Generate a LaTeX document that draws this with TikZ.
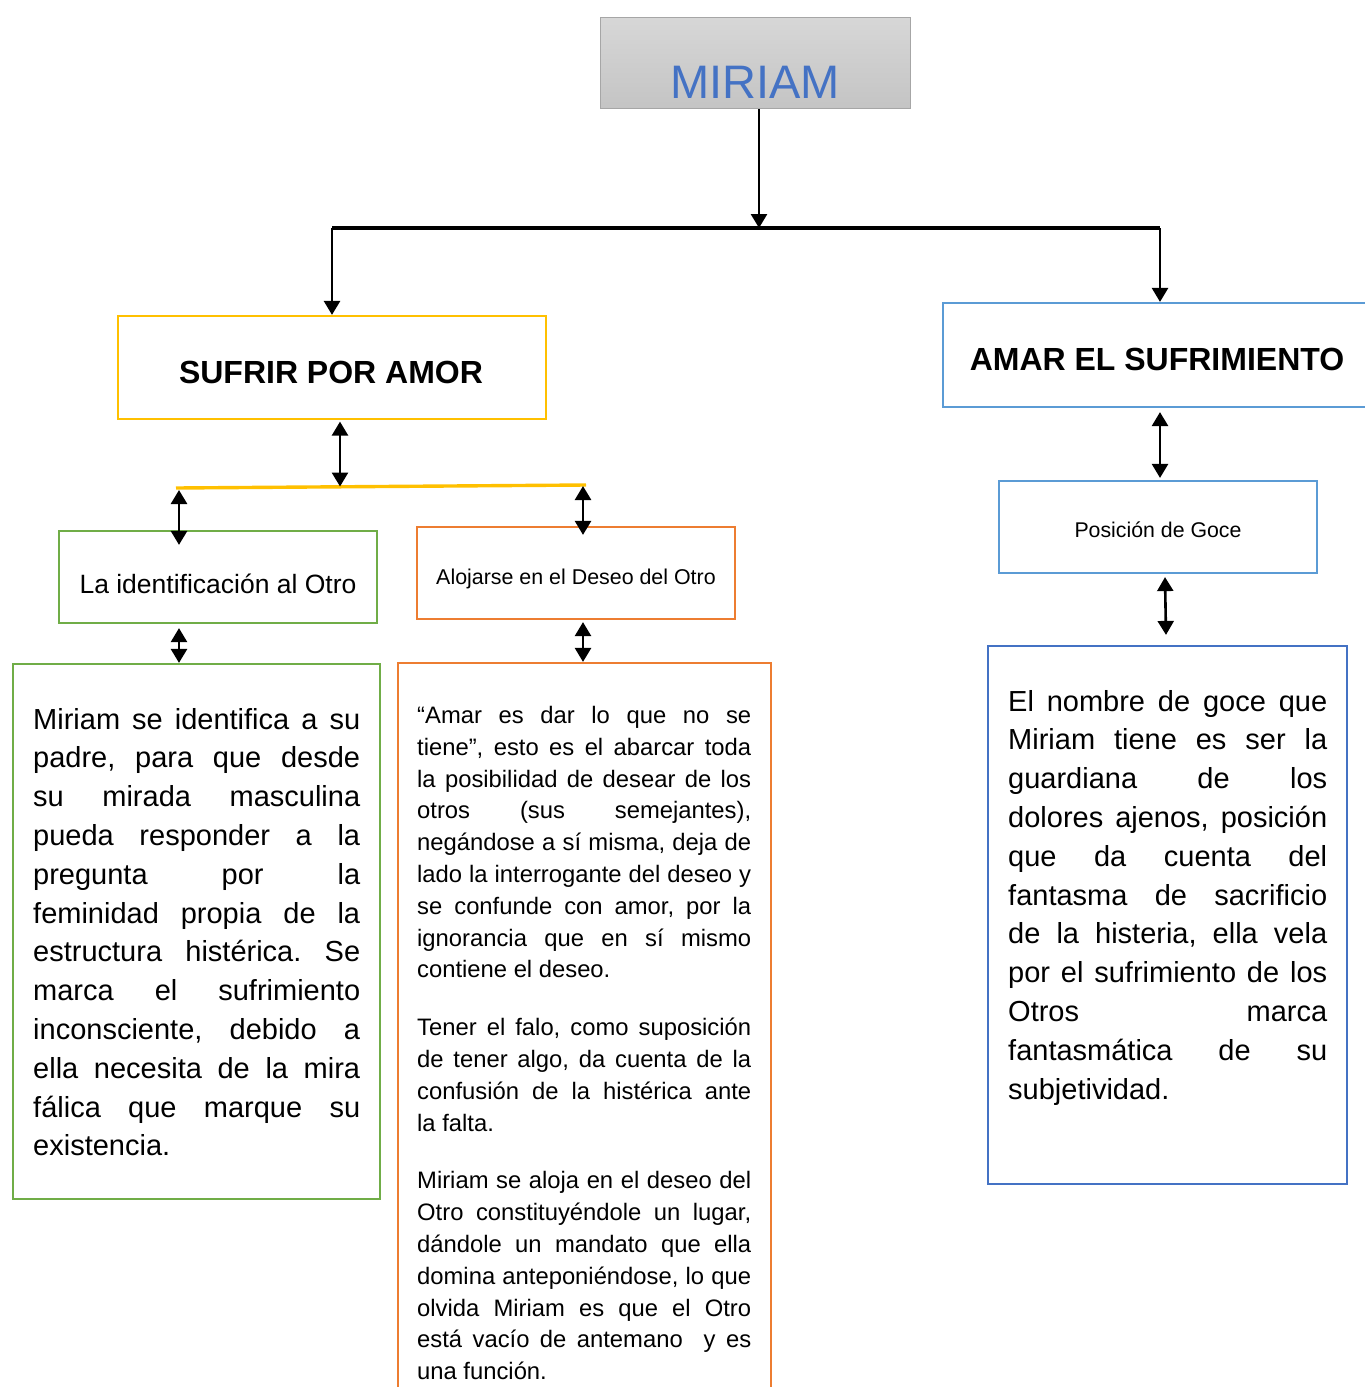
\documentclass[tikz,border=0pt]{standalone}
\usepackage{fontspec}
\setmainfont{Liberation Sans}
\usetikzlibrary{arrows.meta,calc}
\definecolor{cyellow}{HTML}{FFC000}
\definecolor{cgreen}{HTML}{70AD47}
\definecolor{corange}{HTML}{ED7D31}
\definecolor{clblue}{HTML}{5B9BD5}
\definecolor{cdblue}{HTML}{4472C4}
\definecolor{cgrayb}{HTML}{A6A6A6}
\definecolor{cgtop}{HTML}{D7D7D7}
\definecolor{cgbot}{HTML}{C4C4C4}
\hbadness=10000
\hfuzz=20pt
\frenchspacing
\newcommand\jl[1]{\noindent\hbox to\hsize{#1}\par}
\newcommand\lastline[1]{\noindent\hbox{#1}\par}
\tikzset{
  box/.style={draw, line width=2.2pt, inner sep=0pt},
  lbl/.style={inner sep=0pt, anchor=base},
  body/.style={inner sep=0pt, anchor=base west},
  conn/.style={line width=2.6pt, -{Triangle[length=14pt,width=16pt]}},
  dbl/.style={line width=2.6pt, {Triangle[length=14pt,width=16pt]}-{Triangle[length=14pt,width=16pt]}},
  bar/.style={line width=3.4pt}
}
\begin{document}
\begin{tikzpicture}[x=1pt,y=-1pt]
\useasboundingbox (0,0) rectangle (1365,1387);
\clip (0,0) rectangle (1365,1387);

% top box
\node[draw=cgrayb, line width=1.5pt, top color=cgtop, bottom color=cgbot,
      minimum width=310pt, minimum height=91pt, inner sep=0pt] (miriam) at (755.5,63) {};
\node[lbl, text=cdblue, font=\fontsize{47}{52}\selectfont] (miriamt) at (755,98) {MIRIAM};

% level 1 boxes
\node[box, draw=cyellow, minimum width=428pt, minimum height=103pt] (sufrir) at (332,367.5) {};
\node[lbl, font=\bfseries\fontsize{32}{36}\selectfont] (sufrirt) at (331,383.5) {SUFRIR POR AMOR};
\node[box, draw=clblue, minimum width=436pt, minimum height=104pt] (amar) at (1161,355) {};
\node[lbl, font=\bfseries\fontsize{32}{36}\selectfont] (amart) at (1157,370.5) {AMAR EL SUFRIMIENTO};

% level 2 boxes
\node[box, draw=cgreen, minimum width=318pt, minimum height=92pt] (ident) at (218,577) {};
\node[lbl, font=\fontsize{26.5}{30}\selectfont] (identt) at (218,593) {La identificación al Otro};
\node[box, draw=corange, minimum width=318pt, minimum height=92pt] (aloj) at (576,573) {};
\node[lbl, font=\fontsize{21.4}{25}\selectfont] (alojt) at (576,584.5) {Alojarse en el Deseo del Otro};
\node[box, draw=clblue, minimum width=318pt, minimum height=92pt] (pos) at (1158,527) {};
\node[lbl, font=\fontsize{21.3}{25}\selectfont] (post) at (1158,537) {Posición de Goce};

% big boxes
\node[box, draw=cgreen, minimum width=367pt, minimum height=535pt] (leftbig) at (196.5,931.5) {};
\node[box, draw=corange, minimum width=373pt, minimum height=760pt] (midbig) at (584.5,1043) {};
\node[box, draw=cdblue, minimum width=359pt, minimum height=538pt] (rightbig) at (1167.5,915) {};

% body texts
\node[body] (leftt) at (33,729) {\vtop{\hsize=327pt\fontsize{29}{38.8}\selectfont\parindent0pt\parskip0pt
\jl{Miriam se identifica a su}
\jl{padre, para que desde}
\jl{su mirada masculina}
\jl{pueda responder a la}
\jl{pregunta por la}
\jl{feminidad propia de la}
\jl{estructura histérica. Se}
\jl{marca el sufrimiento}
\jl{inconsciente, debido a}
\jl{ella necesita de la mira}
\jl{fálica que marque su}
\lastline{existencia.}}};

\node[body] (midt) at (417,723.5) {\vtop{\hsize=334pt\fontsize{23.8}{31.8}\selectfont\parindent0pt\parskip0pt
\jl{“Amar es dar lo que no se}
\jl{tiene”, esto es el abarcar toda}
\jl{la posibilidad de desear de los}
\jl{otros (sus semejantes),}
\jl{negándose a sí misma, deja de}
\jl{lado la interrogante del deseo y}
\jl{se confunde con amor, por la}
\jl{ignorancia que en sí mismo}
\lastline{contiene el deseo.}
\vskip26pt
\jl{Tener el falo, como suposición}
\jl{de tener algo, da cuenta de la}
\jl{confusión de la histérica ante}
\lastline{la falta.}
\vskip26pt
\jl{Miriam se aloja en el deseo del}
\jl{Otro constituyéndole un lugar,}
\jl{dándole un mandato que ella}
\jl{domina anteponiéndose, lo que}
\jl{olvida Miriam es que el Otro}
\jl{está vacío de antemano\ \ y es}
\lastline{una función.}}};

\node[body] (rightt) at (1008,711) {\vtop{\hsize=319pt\fontsize{29}{38.8}\selectfont\parindent0pt\parskip0pt
\jl{El nombre de goce que}
\jl{Miriam tiene es ser la}
\jl{guardiana de los}
\jl{dolores ajenos, posición}
\jl{que da cuenta del}
\jl{fantasma de sacrificio}
\jl{de la histeria, ella vela}
\jl{por el sufrimiento de los}
\jl{Otros marca}
\jl{fantasmática de su}
\lastline{subjetividad.}}};

% junction coordinates
\coordinate (barL) at (332,228);
\coordinate (barM) at (759,228);
\coordinate (barR) at (1160,228);
\coordinate (ybL) at (176,488);
\coordinate (ybR) at (586,485);
\coordinate (ybM) at (340,486.5);
\coordinate (ybA) at (179,490);
\coordinate (ybB) at (583,486);

% connectors
\draw[bar] (barL) -- (barR);
\draw[conn] (miriam.south -| barM) -- (barM);
\draw[conn] (barL) -- (sufrir.north -| barL);
\draw[conn] (barR) -- (amar.north -| barR);
\draw[bar, cyellow] (ybL) -- (ybR);
\draw[dbl] (sufrir.south -| ybM) ++(0,1.5) -- (ybM);
\draw[dbl] (ybA) -- ([yshift=-15pt]ident.north -| ybA);
\draw[dbl] (ybB) -- ([yshift=-9pt]aloj.north -| ybB);
\draw[dbl] ([yshift=-4pt]ident.south -| ybA) -- (leftbig.north -| ybA);
\draw[dbl] ([yshift=-2pt]aloj.south -| ybB) -- (midbig.north -| ybB);
\draw[dbl] ([yshift=-4pt]amar.south -| barR) -- ([yshift=2pt]pos.north -| barR);
\draw[dbl] ([xshift=7pt,yshift=-3pt]pos.south) -- ([xshift=8pt,yshift=10pt]rightbig.north -| pos.south);
\end{tikzpicture}
\end{document}
